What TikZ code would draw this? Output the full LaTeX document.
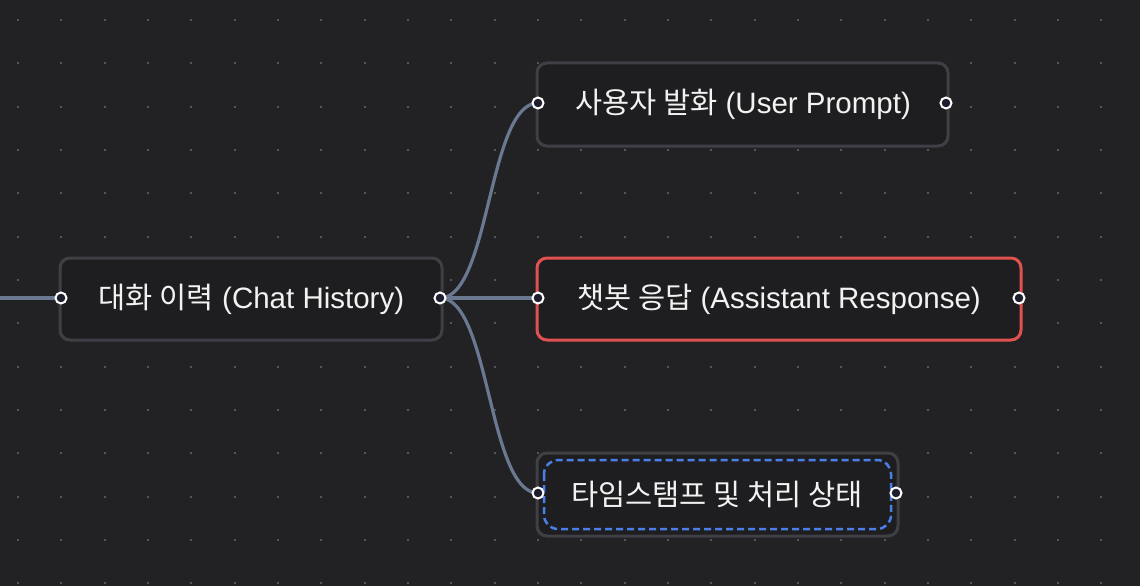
\documentclass[tikz,border=0pt]{standalone}
\usepackage{fontspec}
\setmainfont{Liberation Sans}
\newfontfamily\kr{Noto Sans CJK KR}
\definecolor{bgc}{HTML}{222224}
\definecolor{dotc}{HTML}{55565A}
\definecolor{boxfill}{HTML}{1E1E20}
\definecolor{boxline}{HTML}{3F3F46}
\definecolor{redline}{HTML}{E0524F}
\definecolor{blueline}{HTML}{4A7FE8}
\definecolor{edgec}{HTML}{6B7891}
\definecolor{handlefill}{HTML}{1E1E2E}
\definecolor{txt}{HTML}{F2F2F2}
\tikzset{
  box/.style={draw=boxline, line width=3pt, fill=boxfill, rounded corners=10pt, inner sep=0pt},
  lbl/.style={text=txt, font=\fontsize{29.5}{34}\selectfont, inner sep=0pt, anchor=center},
  handle/.style={circle, draw=white, line width=2pt, fill=handlefill, minimum size=11pt, inner sep=0pt},
  edge/.style={draw=edgec, line width=3.2pt},
}
\begin{document}
\begin{tikzpicture}[x=1pt,y=-1pt]
\useasboundingbox (0,0) rectangle (1140,586);
\fill[bgc] (0,0) rectangle (1140,586);
\foreach \i in {0,...,26} {
  \foreach \j in {0,...,13} {
    \fill[dotc] ({18+43.33*\i-1},{20+43.33*\j-1}) rectangle ++(2,2);
  }
}
\coordinate (lfree) at (0,298);
% boxes
\draw[box] (60,258) rectangle (442,340);
\draw[box] (537,63) rectangle (948,146);
\draw[box, draw=redline] (537,258) rectangle (1021,340);
\draw[box] (537,453) rectangle (898,536);
\draw[draw=blueline, line width=2.5pt, dash pattern=on 7pt off 4pt, rounded corners=14pt] (544,460) rectangle (891,529);
% labels
\node[lbl] (tchat) at (251.5,299) {\kr 대화 이력\rm\ (Chat History)};
\node[lbl] (tuser) at (743,104) {\kr 사용자 발화\rm\ (User Prompt)};
\node[lbl] (tasst) at (779,299) {\kr 챗봇 응답\rm\ (Assistant Response)};
\node[lbl] (ttime) at (717,494) {\kr 타임스탬프 및 처리 상태};
% handle positions
\coordinate (hcl) at (61,298);
\coordinate (hcr) at (440,298);
\coordinate (hul) at (538,103);
\coordinate (hur) at (946,103);
\coordinate (hal) at (538,298);
\coordinate (har) at (1019,298);
\coordinate (htl) at (538,493);
\coordinate (htr) at (896,493);
\draw[edge] (lfree) -- (hcl);
\draw[edge] (hcr) .. controls (490,298) and (488,103) .. (hul);
\draw[edge] (hcr) -- (hal);
\draw[edge] (hcr) .. controls (490,298) and (488,493) .. (htl);
\foreach \h in {hcl,hcr,hul,hur,hal,har,htl,htr} {
  \node[handle] (n\h) at (\h) {};
}
\end{tikzpicture}
\end{document}
